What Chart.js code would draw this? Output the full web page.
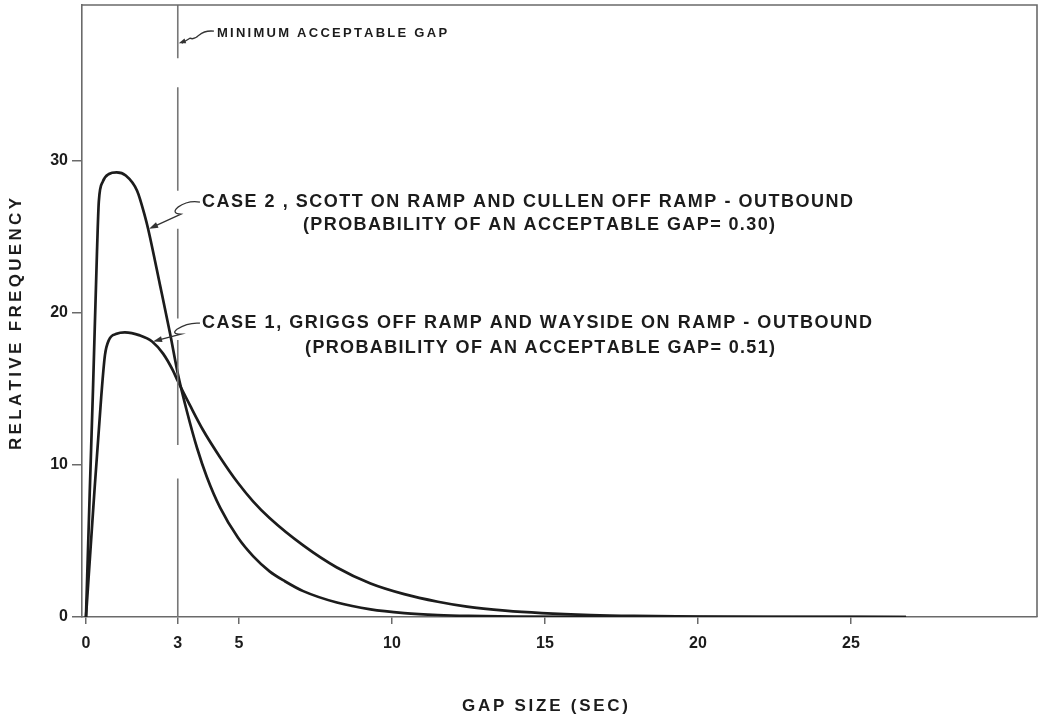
<!DOCTYPE html>
<html>
<head>
<meta charset="utf-8">
<script src="https://cdn.jsdelivr.net/npm/chart.js@4.4.1/dist/chart.umd.min.js"></script>
<style>
html,body{margin:0;padding:0;background:#fff;}
#wrap{width:1042px;height:716px;}
</style>
</head>
<body>
<div id="wrap"><canvas id="c" width="1042" height="716"></canvas></div>
<script>
// ---- data ----
const xTickValues = [0, 3, 5, 10, 15, 20, 25];
const yTickValues = [0, 10, 20, 30];

const case1Gap  = [0, 0.25, 0.5, 0.62, 0.75, 1.0, 1.27, 1.76, 2.16, 2.52, 2.84, 3.0, 3.4, 3.82, 4.38, 4.97, 5.46, 6.0, 7.1, 8.2, 9.3, 10.4, 11.5, 12.45, 13.7, 14.9, 16.5, 17.9, 20.0, 23.0, 26.8];
const case1Freq = [0, 7.5, 14.5, 17.2, 18.2, 18.6, 18.7, 18.5, 18.1, 17.3, 16.2, 15.5, 13.9, 12.3, 10.5, 8.8, 7.6, 6.5, 4.7, 3.25, 2.2, 1.5, 1.0, 0.68, 0.42, 0.26, 0.13, 0.07, 0.03, 0.01, 0];

const case2Gap  = [0, 0.12, 0.23, 0.36, 0.42, 0.55, 0.75, 1.0, 1.3, 1.67, 1.93, 2.03, 2.42, 2.75, 3.0, 3.3, 3.63, 3.95, 4.38, 4.97, 5.46, 6.0, 6.5, 7.1, 8.2, 9.3, 10.4, 11.5, 12.5, 14.0, 17.0, 26.8];
const case2Freq = [0, 8, 15, 24, 27.3, 28.6, 29.1, 29.2, 29.0, 28.0, 26.3, 25.5, 21.8, 18.6, 16.0, 13.5, 11.1, 9.2, 7.2, 5.2, 4.0, 3.0, 2.35, 1.7, 0.95, 0.5, 0.26, 0.13, 0.07, 0.03, 0.01, 0];

const minAcceptableGap = 3;
const minGapLineFreq = [40.2, 36.7, null, 34.8, 28.0, null, 25.5, 19.6, null, 18.2, 11.3, null, 9.1, 0];

const xTitle = 'GAP SIZE (SEC)';
const yTitle = 'RELATIVE FREQUENCY';
const minGapLabel = 'MINIMUM ACCEPTABLE GAP';
const case2Label = ['CASE 2 , SCOTT ON RAMP AND CULLEN OFF RAMP - OUTBOUND', '(PROBABILITY OF AN ACCEPTABLE GAP= 0.30)'];
const case1Label = ['CASE 1, GRIGGS OFF RAMP AND WAYSIDE ON RAMP - OUTBOUND', '(PROBABILITY OF AN ACCEPTABLE GAP= 0.51)'];

// ---- build chart ----
const pts = (xs, ys) => xs.map((v, i) => ({x: v, y: ys[i]}));
const FONT = '"Liberation Sans", Arial, sans-serif';
const INK = '#1c1c1c';
const AXIS = '#6a6a6a';

function spaced(ctx, text, x0, x1, y) {
  const chars = [...text];
  const w = chars.map(c => ctx.measureText(c).width);
  const total = w.reduce((a, b) => a + b, 0);
  const sp = (x1 - x0 - total) / (chars.length - 1);
  let x = x0;
  chars.forEach((c, i) => { ctx.fillText(c, x, y); x += w[i] + sp; });
}

function arrowHead(ctx, tx, ty, fx, fy, len, half) {
  const ang = Math.atan2(ty - fy, tx - fx);
  ctx.beginPath();
  ctx.moveTo(tx, ty);
  ctx.lineTo(tx - len * Math.cos(ang) + half * Math.sin(ang), ty - len * Math.sin(ang) - half * Math.cos(ang));
  ctx.lineTo(tx - len * Math.cos(ang) - half * Math.sin(ang), ty - len * Math.sin(ang) + half * Math.cos(ang));
  ctx.closePath();
  ctx.fill();
}

const annotations = {
  id: 'annotations',
  afterDatasetsDraw(chart) {
    const {ctx, chartArea: a, scales: {x, y}} = chart;
    const P = (gx, fy) => [x.getPixelForValue(gx), y.getPixelForValue(fy)];
    ctx.save();
    // frame: top & right
    ctx.strokeStyle = AXIS; ctx.lineWidth = 1.6;
    ctx.beginPath();
    ctx.moveTo(a.left, a.top); ctx.lineTo(a.right, a.top); ctx.lineTo(a.right, a.bottom);
    ctx.stroke();

    ctx.fillStyle = INK; ctx.textBaseline = 'middle'; ctx.textAlign = 'left';

    // minimum acceptable gap label
    ctx.font = 'bold 13px ' + FONT;
    let [sx, sy] = P(4.28, 38.35); let [ex] = P(11.8, 0);
    spaced(ctx, minGapLabel, sx, ex, sy);
    let [tx, ty] = P(minAcceptableGap, 37.69);
    ctx.strokeStyle = '#333'; ctx.lineWidth = 1.3;
    ctx.beginPath();
    ctx.moveTo(sx - 3, sy - 2);
    ctx.quadraticCurveTo(sx - 12, sy - 3, sx - 18, sy + 2);
    ctx.quadraticCurveTo(sx - 23, sy + 7, sx - 27, sy + 5);
    ctx.lineTo(tx + 4, ty);
    ctx.stroke();
    ctx.fillStyle = '#333';
    arrowHead(ctx, tx + 1, ty, sx - 27, sy + 6, 7, 2.5);
    ctx.fillStyle = INK;

    // case 2 label
    ctx.font = 'bold 18px ' + FONT;
    [sx, sy] = P(3.79, 27.25); [ex] = P(25.07, 0);
    spaced(ctx, case2Label[0], sx, ex, sy);
    let [s2x, s2y] = P(7.09, 25.74); [ex] = P(22.52, 0);
    spaced(ctx, case2Label[1], s2x, ex, s2y);
    [tx, ty] = P(2.03, 25.5);
    ctx.strokeStyle = '#333'; ctx.lineWidth = 1.3;
    ctx.beginPath();
    ctx.moveTo(sx - 2, sy);
    ctx.quadraticCurveTo(sx - 14, sy - 2, sx - 24, sy + 5);
    ctx.quadraticCurveTo(sx - 31, sy + 11, sx - 21, sy + 12);
    ctx.lineTo(tx + 5, ty - 2);
    ctx.stroke();
    ctx.fillStyle = '#333';
    arrowHead(ctx, tx + 1, ty, sx - 21, sy + 12, 9, 3);
    ctx.fillStyle = INK;

    // case 1 label
    [sx, sy] = P(3.79, 19.30); [ex] = P(25.69, 0);
    spaced(ctx, case1Label[0], sx, ex, sy);
    [s2x, s2y] = P(7.16, 17.66); [ex] = P(22.52, 0);
    spaced(ctx, case1Label[1], s2x, ex, s2y);
    [tx, ty] = P(2.16, 18.1);
    ctx.beginPath();
    ctx.moveTo(sx - 2, sy);
    ctx.quadraticCurveTo(sx - 14, sy - 1, sx - 25, sy + 6);
    ctx.quadraticCurveTo(sx - 31, sy + 11, sx - 21, sy + 11);
    ctx.lineTo(tx + 5, ty - 1);
    ctx.stroke();
    ctx.fillStyle = '#333';
    arrowHead(ctx, tx + 1, ty, sx - 21, sy + 11, 9, 3);
    ctx.fillStyle = INK;

    // axis titles
    ctx.font = 'bold 17px ' + FONT;
    spaced(ctx, xTitle, 462, 628, 706);
    ctx.translate(16, 324);
    ctx.rotate(-Math.PI / 2);
    spaced(ctx, yTitle, -126, 126, 0);
    ctx.restore();
  }
};

new Chart(document.getElementById('c'), {
  type: 'line',
  data: {
    datasets: [
      {
        label: 'Minimum acceptable gap',
        data: minGapLineFreq.map(v => ({x: minAcceptableGap, y: v})),
        borderColor: '#777', borderWidth: 1.6, pointRadius: 0, spanGaps: false, tension: 0
      },
      {
        label: 'Case 2',
        data: pts(case2Gap, case2Freq),
        borderColor: INK, borderWidth: 2.7, pointRadius: 0, cubicInterpolationMode: 'monotone'
      },
      {
        label: 'Case 1',
        data: pts(case1Gap, case1Freq),
        borderColor: INK, borderWidth: 2.7, pointRadius: 0, cubicInterpolationMode: 'monotone'
      }
    ]
  },
  options: {
    responsive: false,
    animation: false,
    devicePixelRatio: 1,
    layout: {autoPadding: false, padding: {top: 5, right: 5, left: 0, bottom: 0}},
    plugins: {legend: {display: false}, tooltip: {enabled: false}},
    scales: {
      x: {
        type: 'linear', min: -0.13, max: 31.08,
        afterBuildTicks: s => { s.ticks = xTickValues.map(v => ({value: v})); },
        afterFit: s => { s.height = 99; s.paddingLeft = 0; s.paddingRight = 0; s.paddingTop = 0; s.paddingBottom = 0; },
        grid: {drawOnChartArea: false, drawTicks: true, tickLength: 7, color: AXIS, lineWidth: 1.5},
        border: {display: true, color: AXIS, width: 1.6},
        ticks: {color: INK, padding: 10, font: {family: FONT, size: 16, weight: 'bold'}, maxRotation: 0, autoSkip: false}
      },
      y: {
        type: 'linear', min: 0, max: 40.2,
        afterBuildTicks: s => { s.ticks = yTickValues.map(v => ({value: v})); },
        afterFit: s => { s.width = 82; s.paddingTop = 0; s.paddingBottom = 0; s.paddingLeft = 0; s.paddingRight = 0; },
        grid: {drawOnChartArea: false, drawTicks: true, tickLength: 10, color: AXIS, lineWidth: 1.5},
        border: {display: true, color: AXIS, width: 1.6},
        ticks: {color: INK, padding: 4, font: {family: FONT, size: 16, weight: 'bold'}}
      }
    }
  },
  plugins: [annotations]
});
</script>
</body>
</html>
